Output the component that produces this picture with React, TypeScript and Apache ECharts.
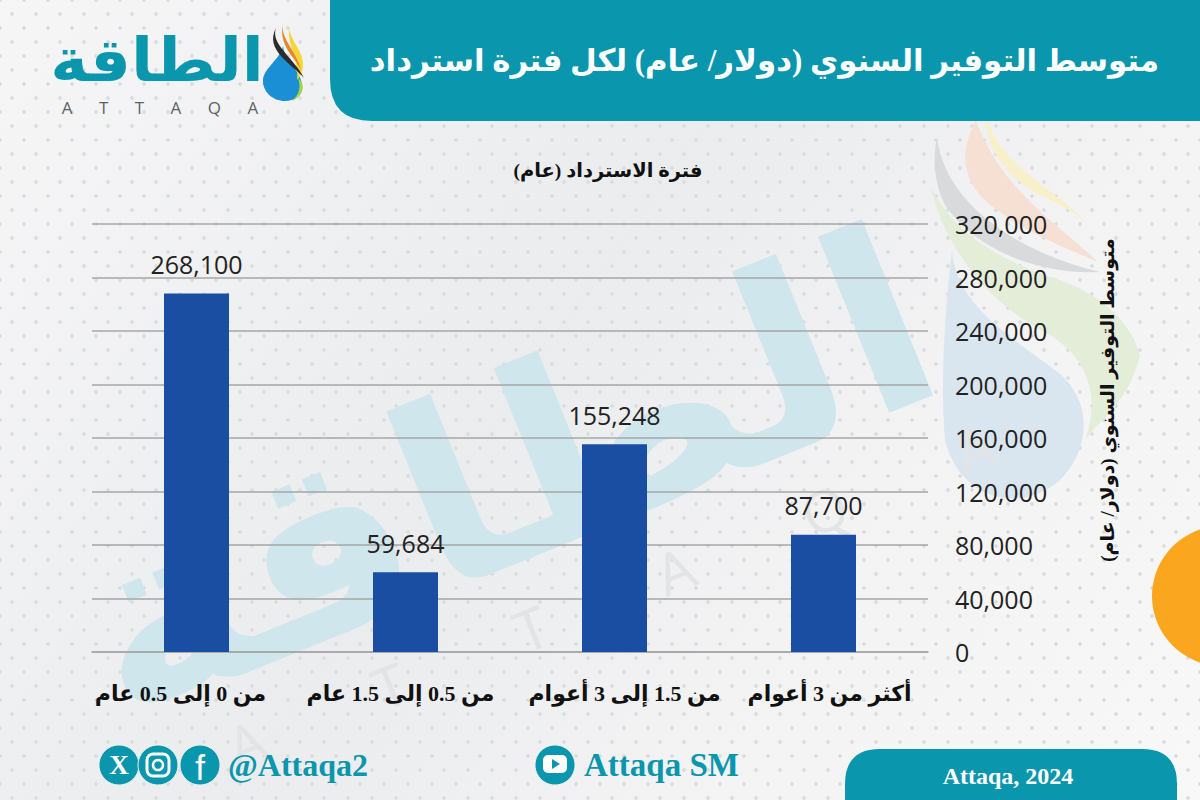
import React, { useEffect, useRef } from "react";
import * as echarts from "echarts";

const categories = ["من 0 إلى 0.5 عام", "من 0.5 إلى 1.5 عام", "من 1.5 إلى 3 أعوام", "أكثر من 3 أعوام"];
const savings = [268100, 59684, 155248, 87700];
const chartTitle = "متوسط التوفير السنوي (دولار/ عام) لكل فترة استرداد";
const xAxisTitle = "فترة الاسترداد (عام)";
const yAxisTitle = "متوسط التوفير السنوي (دولار/ عام)";
const logoArabic = "الطاقة";
const logoLatin = "A      T      T      A      Q      A";
const watermarkLatin = "A        T        T        A        Q        A";
const handle = "@Attaqa2";
const channel = "Attaqa SM";
const credit = "Attaqa, 2024";

const TEAL = "#0a96ad";
const ARABIC = '"Liberation Serif", "DejaVu Sans", serif';

const shapes: Record<string, string> = {
  header: "M330 0H1200V121H372Q330 121 330 79Z",
  pill: "M880 749H1142Q1177 749 1177 784V800H845V784Q845 749 880 749Z",
  wmGray: "M937 138C945 200 1010 250 1100 272C1040 275 975 250 945 205C935 185 932 160 937 138Z",
  wmPink: "M976 120C960 150 960 180 990 205C1030 235 1070 250 1098 262C1060 225 1000 190 976 120Z",
  wmYellow: "M985 113C985 150 1010 180 1040 195C1060 205 1075 212 1085 222C1060 190 1000 170 985 113Z",
  wmBlue: "M930 185C950 230 1000 262 1060 280C1100 295 1130 320 1140 355C1130 400 1100 420 1085 440C1100 400 1090 360 1050 335C990 305 945 250 930 185Z",
  wmDrop: "M952 250C955 300 1000 330 1055 370C1095 400 1090 450 1060 480C1020 515 960 500 945 440C940 380 945 310 952 250Z",
  lgDrop: "M283 46C284 60 302 72 302 86C302 96 294 101 285 101C273 101 263 92 263 81C263 68 280 60 283 46Z",
  lgYellow: "M289 25C288 38 303 50 303 64C303 72 300 77 297 80C300 62 287 48 289 25Z",
  lgOrange: "M283 24C280 38 297 52 301 70C296 58 278 46 283 24Z",
  lgBlack: "M276 28C270 44 294 58 304 78C292 64 264 50 276 28Z",
  lgGreen: "M298 78C306 84 304 96 292 101C300 94 301 86 298 78Z",
};
Object.keys(shapes).forEach((k) => {
  echarts.graphic.registerShape(k, echarts.graphic.extendPath(shapes[k], {}) as any);
});
const shape = (type: string, fill: string, z = 0, opacity = 1) => ({ type, z, silent: true, style: { fill, opacity } });

export default function App() {
  const ref = useRef<HTMLDivElement>(null);
  useEffect(() => {
    document.body.style.margin = "0";
    const chart = echarts.init(ref.current!, undefined, { renderer: "svg" });
    chart.setOption({
      animation: false,
      backgroundColor: "transparent",
      title: [
        { text: chartTitle, right: 36, top: 40, textStyle: { color: "#fff", fontFamily: ARABIC, fontWeight: "bold", fontSize: 30.8 } },
        { text: xAxisTitle, left: 603, textAlign: "center", top: 155, textStyle: { color: "#111", fontFamily: ARABIC, fontWeight: "bold", fontSize: 19.5 } },
      ],
      grid: { left: 92, right: 272, top: 224, bottom: 148 },
      xAxis: {
        type: "category",
        data: categories,
        axisTick: { show: false },
        axisLine: { lineStyle: { color: "#a6a6a6", width: 1.5 } },
        axisLabel: {
          color: "#111",
          fontFamily: ARABIC,
          fontWeight: "bold",
          fontSize: 22,
          margin: 30,
          interval: 0,
          formatter: (v: string, i: number) => `{c${i}|${v}}`,
          rich: {
            c0: { fontFamily: ARABIC, fontWeight: "bold", fontSize: 22, color: "#111", padding: [0, 32, 0, 0] },
            c1: { fontFamily: ARABIC, fontWeight: "bold", fontSize: 22, color: "#111", padding: [0, 10, 0, 0] },
            c2: { fontFamily: ARABIC, fontWeight: "bold", fontSize: 22, color: "#111", padding: [0, 0, 0, 20] },
            c3: { fontFamily: ARABIC, fontWeight: "bold", fontSize: 22, color: "#111", padding: [0, 0, 0, 12] },
          },
        },
      },
      yAxis: {
        type: "value",
        position: "right",
        min: 0,
        max: 320000,
        interval: 40000,
        name: yAxisTitle,
        nameLocation: "middle",
        nameRotate: 90,
        nameGap: 170,
        nameTextStyle: { color: "#111", fontFamily: ARABIC, fontWeight: "bold", fontSize: 19, padding: [0, 0, 0, 76] },
        axisLine: { show: false },
        axisTick: { show: false },
        splitLine: { lineStyle: { color: "#a6a6a6", width: 1.5 } },
        axisLabel: {
          color: "#222",
          fontFamily: '"Open Sans", sans-serif',
          fontSize: 25,
          margin: 27,
          formatter: (v: number) => v.toLocaleString("en-US"),
        },
      },
      series: [
        {
          type: "bar",
          data: savings,
          barWidth: 65,
          itemStyle: { color: "#1a4ea3" },
          label: {
            show: true,
            position: "top",
            distance: 17,
            color: "#222",
            fontFamily: '"Open Sans", sans-serif',
            fontSize: 25,
            formatter: (p: any) => Number(p.value).toLocaleString("en-US"),
          },
        },
      ],
      graphic: [
        // watermark behind the plot
        shape("wmGray", "#d9dadc", -10),
        shape("wmPink", "#f6e0d3", -10),
        shape("wmYellow", "#f8f0c8", -10),
        shape("wmBlue", "#e4edd8", -10),
        shape("wmDrop", "#d9e6ef", -10),
        { type: "text", z: -10, silent: true, x: 505, y: 475, scaleX: 1.08, rotation: (22 * Math.PI) / 180,
          style: { text: logoArabic, x: 0, y: 0, align: "center", verticalAlign: "middle", fill: "#cfe6ec", fontFamily: '"DejaVu Sans", sans-serif', fontWeight: "bold", fontSize: 250 } },
        { type: "text", z: -10, silent: true, x: 610, y: 596, rotation: (22 * Math.PI) / 180,
          style: { text: watermarkLatin, x: 0, y: 0, align: "center", verticalAlign: "middle", fill: "#e2e4e6", fontFamily: '"Open Sans", sans-serif', fontSize: 58 } },
        // frame
        shape("header", TEAL, 1),
        shape("pill", TEAL, 1),
        { type: "circle", z: 1, silent: true, shape: { cx: 1222, cy: 596, r: 70 }, style: { fill: "#fba61f" } },
        // logo
        { type: "text", z: 2, silent: true, x: 157, y: 60, scaleX: 1.07,
          style: { text: logoArabic, x: 0, y: 0, align: "center", verticalAlign: "middle", fill: TEAL, fontFamily: '"DejaVu Sans", sans-serif', fontWeight: "bold", fontSize: 60 } },
        { type: "text", z: 2, silent: true, x: 160, y: 107,
          style: { text: logoLatin, x: 0, y: 0, align: "center", verticalAlign: "middle", fill: "#5d6266", fontFamily: '"Open Sans", sans-serif', fontSize: 17 } },
        shape("lgDrop", "#1a8fd6", 2),
        shape("lgYellow", "#f5d63a", 2),
        shape("lgOrange", "#e8842a", 2),
        shape("lgBlack", "#2b2b2b", 2),
        shape("lgGreen", "#a5d63f", 2),
        // social row
        ...[119, 158, 200, 555].map((cx) => ({ type: "circle", z: 2, silent: true, shape: { cx, cy: 765, r: 20 }, style: { fill: TEAL, stroke: "#eef0f1", lineWidth: 1 } })),
        { type: "text", z: 3, silent: true, x: 119, y: 765, style: { text: "X", x: 0, y: 0, align: "center", verticalAlign: "middle", fill: "#fff", fontFamily: '"Liberation Serif", serif', fontWeight: "bold", fontSize: 27 } },
        { type: "rect", z: 3, silent: true, shape: { x: 147, y: 754, width: 22, height: 22, r: 6 }, style: { fill: "none", stroke: "#fff", lineWidth: 3 } },
        { type: "circle", z: 3, silent: true, shape: { cx: 158, cy: 765, r: 5 }, style: { fill: "none", stroke: "#fff", lineWidth: 2.5 } },
        { type: "text", z: 3, silent: true, x: 200, y: 767, style: { text: "f", x: 0, y: 0, align: "center", verticalAlign: "middle", fill: "#fff", fontFamily: '"Liberation Sans", sans-serif', fontSize: 35 } },
        { type: "rect", z: 3, silent: true, shape: { x: 543, y: 755, width: 24, height: 18, r: 5 }, style: { fill: "#fff" } },
        { type: "polygon", z: 4, silent: true, shape: { points: [[552, 759], [552, 769], [560, 764]] }, style: { fill: TEAL } },
        { type: "text", z: 3, silent: true, x: 228, y: 765, style: { text: handle, x: 0, y: 0, align: "left", verticalAlign: "middle", fill: TEAL, fontFamily: '"Liberation Serif", serif', fontWeight: "bold", fontSize: 32 } },
        { type: "text", z: 3, silent: true, x: 584, y: 765, style: { text: channel, x: 0, y: 0, align: "left", verticalAlign: "middle", fill: TEAL, fontFamily: '"Liberation Serif", serif', fontWeight: "bold", fontSize: 33 } },
        { type: "text", z: 3, silent: true, x: 1008, y: 776, style: { text: credit, x: 0, y: 0, align: "center", verticalAlign: "middle", fill: "#fff", fontFamily: '"Liberation Serif", serif', fontWeight: "bold", fontSize: 24 } },
      ],
    });
    return () => chart.dispose();
  }, []);
  return (
    <div
      style={{
        width: 1200,
        height: 800,
        backgroundColor: "#f1f2f3",
        backgroundImage:
          "radial-gradient(circle, #dcdfe2 1.6px, transparent 2px), radial-gradient(circle, #dcdfe2 1.6px, transparent 2px), linear-gradient(125deg, #f6f6f7 0%, #ebecee 45%, #f3f3f4 70%, #f8f8f9 100%)",
        backgroundSize: "24px 28px, 24px 28px, 100% 100%",
        backgroundPosition: "0 0, 12px 14px, 0 0",
      }}
    >
      <div ref={ref} style={{ width: 1200, height: 800 }} />
    </div>
  );
}
